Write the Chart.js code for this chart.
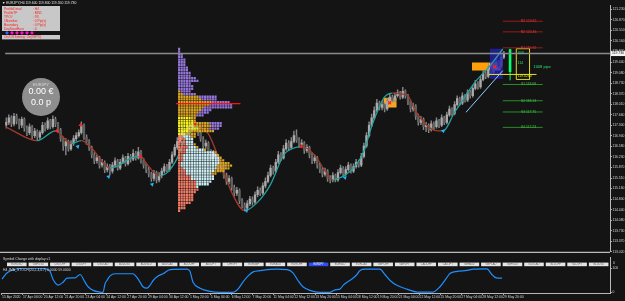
<!DOCTYPE html>
<html>
<head>
<meta charset="utf-8">
<script src="https://cdn.jsdelivr.net/npm/chart.js@4.4.0/dist/chart.umd.min.js"></script>
<style>
  html, body { margin: 0; padding: 0; background: #141414; overflow: hidden; }
  #main { position: absolute; left: 0; top: 0; }
  #osc { position: absolute; left: 0; top: 257px; }
</style>
</head>
<body>
<canvas id="main" width="625" height="257"></canvas>
<canvas id="osc" width="625" height="44"></canvas>
<script>
// ---- data ----
const symbolTitle = 'EURJPY,H4';
const firstOpen = 117.30;
// H4 closes, 15 Apr 20:00 .. 29 May 20:00
const closes = [
  117.40,117.55,117.35,117.60,117.45,117.30,117.50,117.20,117.05,117.25,
  116.95,117.10,116.90,117.05,117.30,117.20,117.45,117.25,117.50,117.35,
  117.15,116.85,116.60,116.75,116.50,116.70,116.85,116.95,117.05,117.30,
  116.90,116.75,116.55,116.30,116.10,116.20,115.95,116.05,115.80,115.90,
  115.75,115.95,116.10,115.85,116.05,116.20,116.00,116.25,116.15,116.35,
  116.20,116.40,116.10,115.95,115.80,115.65,115.50,115.70,115.45,115.60,
  115.75,115.90,115.80,116.05,116.30,116.55,116.75,116.95,117.10,117.00,
  117.25,117.15,117.35,117.20,117.05,116.85,116.60,116.70,116.40,116.25,
  116.35,116.05,115.85,115.95,115.60,115.40,115.50,115.20,115.00,115.10,
  114.75,114.60,114.50,114.65,114.80,114.70,114.95,115.10,115.00,115.25,
  115.40,115.60,115.85,115.75,116.05,116.30,116.20,116.50,116.70,116.55,
  116.75,116.95,116.80,116.65,116.70,116.45,116.55,116.30,116.10,116.20,
  115.95,115.80,115.65,115.75,115.50,115.45,115.60,115.45,115.70,115.85,
  115.65,115.80,115.95,115.75,115.90,116.05,115.95,116.25,116.60,116.95,
  117.30,117.55,117.80,118.05,117.90,118.00,117.85,118.10,118.25,118.15,
  118.30,118.40,118.25,118.45,118.30,118.10,117.85,117.95,117.60,117.40,
  117.50,117.25,117.30,117.15,117.35,117.25,117.45,117.30,117.55,117.40,
  117.65,117.85,117.70,118.00,118.20,118.05,118.30,118.15,118.40,118.30,
  118.55,118.70,118.60,118.85,119.05,118.95,119.20,119.10,119.35,119.45,
  119.30,119.60,119.73
];
const highs = [
  117.55,117.65,117.62,117.70,117.68,117.52,117.58,117.55,117.28,117.35,
  117.30,117.20,117.15,117.12,117.40,117.38,117.55,117.50,117.62,117.58,
  117.40,117.20,116.90,116.85,116.80,116.78,116.95,117.05,117.15,117.42,
  117.35,116.98,116.82,116.60,116.38,116.30,116.25,116.15,116.10,116.00,
  115.98,116.05,116.20,116.15,116.15,116.30,116.25,116.35,116.32,116.48,
  116.42,116.55,116.45,116.18,116.02,115.88,115.72,115.78,115.75,115.70,
  115.85,116.00,115.98,116.15,116.40,116.65,116.88,117.05,117.22,117.18,
  117.35,117.32,117.45,117.42,117.25,117.10,116.92,116.80,116.75,116.48,
  116.45,116.40,116.10,116.05,116.00,115.68,115.60,115.55,115.28,115.20,
  115.15,114.82,114.68,114.75,114.90,114.88,115.05,115.22,115.18,115.35,
  115.52,115.72,115.95,115.92,116.15,116.42,116.38,116.62,116.82,116.78,
  116.88,117.10,117.15,116.88,116.82,116.75,116.65,116.60,116.38,116.30,
  116.25,116.02,115.88,115.85,115.80,115.60,115.70,115.65,115.80,115.95,
  115.90,115.90,116.05,116.00,116.00,116.15,116.12,116.35,116.70,117.05,
  117.42,117.68,117.92,118.18,118.12,118.12,118.05,118.20,118.35,118.32,
  118.40,118.50,118.45,118.58,118.50,118.35,118.15,118.05,118.00,117.68,
  117.60,117.55,117.40,117.35,117.45,117.42,117.55,117.50,117.65,117.60,
  117.75,117.95,117.90,118.10,118.30,118.25,118.40,118.35,118.50,118.48,
  118.65,118.82,118.78,118.95,119.15,119.12,119.30,119.28,119.45,119.58,
  119.50,119.72,119.80
];
const lows = [
  117.20,117.32,117.25,117.28,117.35,117.18,117.22,117.10,116.95,116.98,
  116.85,116.88,116.78,116.82,117.00,117.10,117.15,117.18,117.20,117.25,
  117.05,116.75,116.45,116.30,116.42,116.45,116.62,116.78,116.90,117.00,
  116.82,116.65,116.45,116.20,116.00,116.02,115.85,115.88,115.70,115.72,
  115.62,115.68,115.88,115.78,115.80,116.00,115.92,115.95,116.05,116.10,
  116.12,116.15,116.02,115.85,115.70,115.55,115.40,115.42,115.35,115.38,
  115.52,115.68,115.72,115.75,116.00,116.25,116.48,116.70,116.88,116.90,
  116.95,117.05,117.10,117.12,116.95,116.75,116.50,116.52,116.30,116.15,
  116.18,115.95,115.75,115.78,115.50,115.30,115.32,115.10,114.90,114.92,
  114.65,114.50,114.40,114.42,114.58,114.60,114.65,114.88,114.92,114.95,
  115.18,115.35,115.55,115.65,115.70,116.00,116.10,116.15,116.45,116.45,
  116.50,116.70,116.72,116.55,116.58,116.35,116.38,116.20,116.00,116.02,
  115.85,115.70,115.55,115.58,115.40,115.35,115.38,115.38,115.40,115.65,
  115.58,115.60,115.75,115.68,115.70,115.85,115.88,115.90,116.20,116.55,
  116.90,117.25,117.50,117.75,117.82,117.82,117.75,117.80,118.05,118.08,
  118.10,118.25,118.18,118.20,118.22,118.00,117.75,117.78,117.50,117.30,
  117.32,117.15,117.08,117.05,117.10,117.15,117.20,117.22,117.25,117.32,
  117.35,117.60,117.62,117.65,117.95,117.98,118.00,118.08,118.10,118.22,
  118.25,118.50,118.52,118.55,118.80,118.88,118.90,119.02,119.05,119.30,
  119.22,119.25,119.55
];

const timeLabels = ['15 Apr 2020','17 Apr 04:00','20 Apr 12:00','21 Apr 20:00','23 Apr 04:00',
  '24 Apr 12:00','27 Apr 20:00','29 Apr 04:00','30 Apr 12:00','1 May 20:00','5 May 04:00',
  '6 May 12:00','7 May 20:00','11 May 04:00','12 May 12:00','13 May 20:00','15 May 04:00',
  '18 May 12:00','19 May 20:00','21 May 04:00','22 May 12:00','25 May 20:00','27 May 04:00',
  '28 May 12:00','29 May 20:00'];
const priceTicks = [121.230,120.870,120.510,120.160,119.800,119.440,119.080,118.730,118.370,
  118.010,117.660,117.300,116.940,116.580,116.230,115.870,115.510,115.160,114.800,114.440,
  114.080,113.730,113.370,113.020];

// smoothed trend line (knots, bar index / price)
const maBars = [0,12,19,25,29,33,40,43,48,52,54,59,62,66,69,74,78,82,87,92,97,102,107,109,114,
  119,123,126,131,135,138,141,144,146,149,155,157,161,165,168.6,173,175.5,180.5,186,191.6];
const maVals = [117.24,116.78,117.11,116.68,116.78,116.52,115.86,115.92,116.19,116.25,116.02,115.59,
  115.69,116.19,116.85,117.24,117.01,116.19,115.03,114.41,114.70,115.30,116.29,116.45,116.58,116.29,
  115.76,115.46,115.63,115.96,116.42,117.27,117.93,118.26,118.39,118.30,117.93,117.41,117.14,117.11,
  117.74,118.06,118.72,119.25,119.88];

// swing arrows
const upArrowBars = [27.6,39.5,56.3,92.7,130.7,168.6];
const upArrowVals = [116.58,115.56,115.30,114.41,115.53,117.11];
const downArrowBars = [19.5,28.7,51.7,113.8];
const downArrowVals = [117.11,117.31,116.25,116.58];
const crossBars = [147.9,188.5];
const crossVals = [118.06,119.28];

// market profile (cells per row, top row first)
const profileTopPrice = 119.88;
const profileRowStep = 0.0897;
const profileA = [1,1,2,2,3,3,3,4,4,5, 5,7,8,5,6,6,1,2,8,9, 13,12,10,9,8,7,5,6,6,6,
  8,4,3,2,3,3,3,4,3,3, 2,2,2,1,1,2,3,3,5,5, 7,7,7,8,7,6,6,6,5,3, 3,1];
const profileB = [0,0,0,0,0,0,0,0,0,0, 0,0,0,0,0,0,4,5,7,6, 7,9,11,4,4,3,2,1,6,7,
  4,10,4,3,3,3,3,3,7,11, 13,14,14,15,14,13,11,10,9,9, 6,5,1,0,0,0,0,0,0,0, 0,0];
const profileC = [0,0,0,0,0,0,0,0,0,0, 0,0,0,0,0,0,0,0,0,0, 0,0,0,0,0,0,0,0,5,4,
  4,0,0,2,0,0,1,1,1,1, 1,1,2,4,6,5,4,2,0,0, 0,0,0,0,0,0,0,0,0,0, 0,0];
const profileZoneBreaks = [16, 26, 33];
const profileHigh = 118.03;
const profileMark = [72.8, 117.34];

// projection area
const levelR = [120.82, 120.46, 119.92];
const levelS = [118.68, 118.13, 117.75, 117.23];
const levelRNames = ['R3','R2','R1'];
const levelSNames = ['S1','S2','S3','S4'];
const levelY = 119.02;
const trendLine = [[177.4, 117.74], [191.6, 119.15]];
const boxOrange1 = [145.6, 150.6, 118.23, 117.90];
const boxOrange2 = [179.7, 186.2, 119.42, 119.15];
const boxPeach = [186.2, 190.8, 119.42, 119.15];
const boxBlue = [186.6, 191.6, 119.89, 118.87];
const boxYellow = [196.8, 201.9, 119.89, 118.85];
const projCandle = [194.4, 119.10, 119.89, 118.82, 119.87]; // bar, open, high, low, close

// oscillator
const oscBars = [0,1.9,5.7,8,13.4,16.5,18.4,19.5,21.5,23.4,24.9,26.8,28,29.9,31.8,33,34.9,37.5,38.7,39.5,
  40.2,41.4,43.3,50.2,51.7,52.9,54,55.6,56.7,57.9,59.8,61.7,64.4,70.9,72,73.2,75.9,79.7,83.5,88.5,
  90.4,92.3,94.3,96.2,98.9,105.4,109.2,111.5,113.4,115.3,118,121.8,125.7,127.6,129.5,130.7,132.2,134.1,
  136,137.2,139.1,144.8,146.7,148.7,151.3,155.2,159,165.1,167.8,170.5,171.6,174.3,178.2,180.5,185.8,
  187.7,188.9,190.1,191.6];
const oscVals = [55,80,98,100,100,98,87,55,30,42,59,60,60,74,42,23,8,1,0,36,
  49,68,77,77,62,42,23,17,29,49,68,77,94,96,87,42,17,4,0,0,
  13,42,68,85,90,96,94,81,49,23,8,0,0,10,13,29,42,55,74,91,
  96,96,74,49,29,13,1,1,23,62,78,87,91,96,97,74,62,59,59];

const symbols = ['EURUSD','GBPUSD','USDCHF','USDJPY','USDCAD','AUDUSD','AUDNZD','AUDCAD','AUDCHF',
  'AUDJPY','CHFJPY','EURGBP','EURAUD','EURCHF','EURJPY','EURNZD','EURCAD','GBPCHF','GBPJPY','CADCHF',
  'CADJPY','GBPAUD','GBPCAD','GBPNZD','NZDCAD','NZDCHF','NZDJPY','NZDUSD'];
const infoLines = [['ProfileDetail','H4'],['ProfileTF','MN1'],['TPO#','93'],
  ['1Number','0 Pip(s)'],['Boundary','0 Pip(s)'],['DayStartHour','0']];

// ---- layout / style ----
const FONT = "'Liberation Sans', Arial, sans-serif";
const xMin = -0.383, xMax = 232.95;
const TEAL = '#27a0a0', RUST = '#a03a2a';
const zonePalette = [
  ['#9576dc'],
  ['#dba322','#9576dc'],
  ['#f6f01c','#dba322','#9576dc'],
  ['#f47c66','#cdeef5','#dba322']
];
const profileStart = 66.3;

const opens = closes.map((c, i) => i ? closes[i - 1] : firstOpen);
const pts = (xs, ys) => xs.map((b, i) => ({x: b, y: ys[i]}));
const seg = (x0, x1, p) => [{x: x0, y: p}, {x: x1, y: p}, {x: x1, y: null}];
const rect = b => [{x: b[0], y: b[2]}, {x: b[1], y: b[2]}, {x: b[1], y: b[3]}, {x: b[0], y: b[3]}, {x: b[0], y: b[2]}];

// profile rows -> line segments per colour
const zoneOf = k => k < profileZoneBreaks[0] ? 0 : k < profileZoneBreaks[1] ? 1 : k < profileZoneBreaks[2] ? 2 : 3;
const profileSegs = {};
profileA.forEach((a, k) => {
  const price = profileTopPrice - k * profileRowStep;
  let x0 = profileStart;
  [a, profileB[k], profileC[k]].forEach((len, j) => {
    if (!len) return;
    const col = zonePalette[zoneOf(k)][j];
    (profileSegs[col] = profileSegs[col] || []).push(...seg(x0, x0 + len, price));
    x0 += len;
  });
});
const profileSets = Object.keys(profileSegs).map(col => ({
  type: 'line', data: profileSegs[col], borderColor: col, borderWidth: 2.3,
  borderDash: [2.15, 0.46], borderCapStyle: 'butt', order: 1
}));

const mainDecor = {
  id: 'mainDecor',
  afterDatasetsDraw(chart) {
    const {ctx, chartArea: a, scales: {x, y}} = chart;
    const last = closes[closes.length - 1];
    const yp = Math.round(y.getPixelForValue(last)) + 0.5;
    ctx.save();
    ctx.strokeStyle = '#8a8a8a'; ctx.lineWidth = 1.5;
    ctx.beginPath(); ctx.moveTo(a.left, yp); ctx.lineTo(a.right, yp); ctx.stroke();

    ctx.font = '3.4px ' + FONT; ctx.textAlign = 'center'; ctx.textBaseline = 'middle';
    const lx = x.getPixelForValue(201.5);
    levelR.forEach((p, i) => { ctx.fillStyle = '#e03a3a'; ctx.fillText(levelRNames[i] + ' ' + p.toFixed(2), lx, y.getPixelForValue(p)); });
    levelS.forEach((p, i) => { ctx.fillStyle = '#45c045'; ctx.fillText(levelSNames[i] + ' ' + p.toFixed(2), lx, y.getPixelForValue(p)); });
    ctx.textAlign = 'left';
    ctx.fillStyle = '#2fe06a';
    ctx.fillText('303', x.getPixelForValue(197.4), y.getPixelForValue(119.75));
    ctx.fillText('114', x.getPixelForValue(197.4), y.getPixelForValue(119.42));
    ctx.font = '4px ' + FONT;
    ctx.fillText('1008 pips', x.getPixelForValue(203.4), y.getPixelForValue(119.28));
    ctx.font = '3.4px ' + FONT;
    ctx.fillStyle = '#e8e820';
    ctx.fillText(levelY.toFixed(4), x.getPixelForValue(197.4), y.getPixelForValue(levelY - 0.07));
    ctx.restore();
  },
  afterDraw(chart) {
    const {ctx, chartArea: a, scales: {y}} = chart;
    const last = closes[closes.length - 1];
    const n = closes.length - 1;
    ctx.save();
    // bottom border of the price window
    ctx.strokeStyle = '#e6e6e6'; ctx.lineWidth = 1;
    ctx.beginPath(); ctx.moveTo(0, a.bottom + 0.5); ctx.lineTo(a.right, a.bottom + 0.5); ctx.stroke();
    // current price tag
    const yp = y.getPixelForValue(last);
    ctx.fillStyle = '#f4f4f4'; ctx.fillRect(a.right + 1, yp - 2.6, 14, 5.2);
    ctx.fillStyle = '#111'; ctx.font = '3.4px ' + FONT; ctx.textBaseline = 'middle'; ctx.textAlign = 'left';
    ctx.fillText(last.toFixed(3), a.right + 2, yp);
    // title
    ctx.fillStyle = '#e6e6e6';
    ctx.fillText('\u25BC ' + symbolTitle + ' ' + opens[n].toFixed(3) + ' ' + highs[n].toFixed(3) + ' ' +
      lows[n].toFixed(3) + ' ' + last.toFixed(3), 2, 3.2);
    // info panel
    ctx.fillStyle = '#c8c8c8'; ctx.fillRect(2, 6, 58, 25);
    ctx.fillStyle = '#ff1a1a'; ctx.font = '3.3px ' + FONT;
    infoLines.forEach((l, i) => {
      ctx.fillText(l[0], 4, 8.6 + i * 4);
      ctx.fillText(': ' + l[1], 33, 8.6 + i * 4);
    });
    ['#3b5cff','#ff10c8','#ff10c8','#ff10c8','#ff10c8','#ff10c8'].forEach((c, i) => {
      ctx.fillStyle = c; ctx.beginPath(); ctx.arc(7 + i * 5, 32.8, 1.6, 0, Math.PI * 2); ctx.fill();
    });
    ctx.fillStyle = '#c8c8c8'; ctx.fillRect(2, 35, 58, 4.4);
    ctx.fillStyle = '#ff1a1a';
    ctx.fillText('On/Off Setting: On(NIPO)', 4, 37.3);
    // balance badge
    ctx.fillStyle = '#8e8e8e'; ctx.beginPath(); ctx.arc(41, 97, 19, 0, Math.PI * 2); ctx.fill();
    ctx.textAlign = 'center';
    ctx.fillStyle = '#dcdcdc'; ctx.font = '4px ' + FONT; ctx.fillText('EURJPY', 41, 85);
    ctx.fillStyle = '#ffffff'; ctx.font = '9px ' + FONT; ctx.fillText('0.00 \u20AC', 41, 91.5);
    ctx.fillText('0.0 p', 41, 103);
    ctx.restore();
  }
};

const oscDecor = {
  id: 'oscDecor',
  afterDraw(chart) {
    const {ctx, chartArea: a} = chart;
    ctx.save();
    ctx.textBaseline = 'middle'; ctx.textAlign = 'left';
    ctx.fillStyle = '#dcdcdc'; ctx.font = '3.4px ' + FONT;
    ctx.fillText('Symbol Change with display v1', 3, 2);
    ctx.fillText('0', a.right + 3, 6);
    ctx.fillText('H4 JMA_STOCH(20,2,4,0.7) 0.0000 59.0000', 3, a.top + 2);
    symbols.forEach((s, i) => {
      const bx = 7 + i * 21.55;
      const cur = s === 'EURJPY';
      ctx.fillStyle = cur ? '#2f4cf5' : '#e4e4e4';
      ctx.fillRect(bx, 5.6, 19.6, 3.6);
      ctx.fillStyle = cur ? '#ffffff' : '#666666';
      ctx.font = '2.6px ' + FONT; ctx.textAlign = 'center';
      ctx.fillText(s, bx + 9.8, 7.5);
    });
    ctx.strokeStyle = '#b8b8b8'; ctx.lineWidth = 1;
    ctx.beginPath(); ctx.moveTo(a.right + 0.5, 0); ctx.lineTo(a.right + 0.5, a.top); ctx.stroke();
    ctx.restore();
  }
};

const tickFont = {size: 3.4, family: FONT};

new Chart(document.getElementById('main'), {
  type: 'line',
  data: {
    datasets: [
      {type: 'line', data: pts(upArrowBars, upArrowVals), showLine: false, pointStyle: 'triangle',
        pointRotation: 45, pointRadius: 2.4, pointBackgroundColor: '#22b4ff', pointBorderWidth: 0, order: 0},
      {type: 'line', data: pts(downArrowBars, downArrowVals), showLine: false, pointStyle: 'triangle',
        pointRotation: 135, pointRadius: 2.4, pointBackgroundColor: '#ff2424', pointBorderWidth: 0, order: 0},
      {type: 'line', data: pts(crossBars, crossVals), showLine: false, pointStyle: 'crossRot',
        pointRadius: 2.2, pointBorderColor: '#ff2020', pointBorderWidth: 1.2, order: 0},
      {type: 'line', data: [{x: profileMark[0], y: profileMark[1]}], showLine: false, pointStyle: 'rect',
        pointRadius: 1.6, pointBackgroundColor: '#ff2020', pointBorderWidth: 0, order: 0},
      {type: 'line', data: seg(profileStart - 0.8, 90.4, profileHigh), borderColor: '#ff1010', borderWidth: 1.2, order: 0.5},
      ...profileSets,
      {type: 'line', data: pts(maBars, maVals), borderWidth: 1.3, cubicInterpolationMode: 'monotone',
        segment: {borderColor: c => c.p1.parsed.y >= c.p0.parsed.y ? TEAL : RUST}, borderColor: TEAL, order: 1.5},
      {type: 'line', data: trendLine.map(p => ({x: p[0], y: p[1]})), borderColor: '#8fd0ff', borderWidth: 1, order: 1.5},
      {type: 'line', data: levelR.flatMap(p => seg(191.6, 207, p)), borderColor: '#9c1a1a', borderWidth: 1, order: 2},
      {type: 'line', data: levelS.flatMap(p => seg(191.6, 207, p)), borderColor: '#2a8c2a', borderWidth: 1, order: 2},
      {type: 'line', data: seg(186.2, 204.6, levelY), borderColor: '#e6e61e', borderWidth: 1, order: 2},
      {type: 'line', data: rect(boxYellow), borderColor: '#d8d820', borderWidth: 1, order: 2},
      {type: 'line', data: [{x: projCandle[0], y: projCandle[3]}, {x: projCandle[0], y: projCandle[2]}],
        borderColor: '#00ff6e', borderWidth: 1, order: 2},
      {type: 'line', data: [{x: projCandle[0], y: projCandle[1]}, {x: projCandle[0], y: projCandle[4]}],
        borderColor: '#00ff6e', borderWidth: 2.6, borderCapStyle: 'butt', order: 2},
      {type: 'line', data: rect(boxBlue), fill: 'shape', backgroundColor: 'rgba(34,34,175,0.78)', borderWidth: 0, order: 3},
      {type: 'bar', data: closes.map((c, i) => ({x: i, y: [opens[i], c]})), grouped: false, barThickness: 1.7,
        backgroundColor: c => closes[c.dataIndex] >= opens[c.dataIndex] ? '#aaaaaa' : '#606060', order: 4},
      {type: 'bar', data: closes.map((c, i) => ({x: i, y: [lows[i], highs[i]]})), grouped: false, barThickness: 0.8,
        backgroundColor: '#858585', order: 5},
      {type: 'line', data: rect(boxOrange1), fill: 'shape', backgroundColor: '#f5a623', borderWidth: 0, order: 6},
      {type: 'line', data: rect(boxOrange2), fill: 'shape', backgroundColor: '#ffa00a', borderWidth: 0, order: 6},
      {type: 'line', data: rect(boxPeach), fill: 'shape', backgroundColor: '#f2bf98', borderWidth: 0, order: 6}
    ]
  },
  options: {
    responsive: false, animation: false, events: [],
    layout: {padding: {top: 3, left: 1, right: 0, bottom: 1}},
    elements: {point: {radius: 0}, line: {borderWidth: 1, fill: false}},
    plugins: {legend: {display: false}, tooltip: {enabled: false}},
    scales: {
      x: {type: 'linear', min: xMin, max: xMax, offset: false, display: false},
      y: {
        position: 'right', min: 113.02, max: 121.362,
        afterFit: s => { s.width = 15; },
        afterBuildTicks: s => { s.ticks = priceTicks.map(v => ({value: v})); },
        ticks: {font: tickFont, color: '#d6d6d6', padding: 0.5, autoSkip: false, callback: v => Number(v).toFixed(3)},
        grid: {drawOnChartArea: false, tickLength: 2, color: '#a8a8a8'},
        border: {color: '#b8b8b8'}
      }
    }
  },
  plugins: [mainDecor]
});

new Chart(document.getElementById('osc'), {
  type: 'line',
  data: {
    datasets: [{data: pts(oscBars, oscVals), borderColor: '#1e8fff', borderWidth: 1.2,
      cubicInterpolationMode: 'monotone', pointRadius: 0}]
  },
  options: {
    responsive: false, animation: false, events: [],
    layout: {padding: {top: 11, left: 1, right: 0, bottom: 0}},
    plugins: {legend: {display: false}, tooltip: {enabled: false}},
    scales: {
      x: {
        type: 'linear', min: xMin, max: xMax, offset: false,
        afterFit: s => { s.height = 8; },
        afterBuildTicks: s => { s.ticks = timeLabels.map((t, i) => ({value: i * 8})); },
        ticks: {font: tickFont, color: '#d6d6d6', autoSkip: false, maxRotation: 0, align: 'start', padding: 0.5,
          callback: (v, i) => timeLabels[i]},
        grid: {drawOnChartArea: false, tickLength: 2, color: '#a8a8a8'},
        border: {color: '#b8b8b8'}
      },
      y: {
        position: 'right', min: -3, max: 101,
        afterFit: s => { s.width = 15; },
        afterBuildTicks: s => { s.ticks = [{value: 0}, {value: 100}]; },
        ticks: {font: tickFont, color: '#d6d6d6', padding: 0.5},
        grid: {drawOnChartArea: false, tickLength: 2, color: '#a8a8a8'},
        border: {color: '#b8b8b8'}
      }
    }
  },
  plugins: [oscDecor]
});
</script>
</body>
</html>
